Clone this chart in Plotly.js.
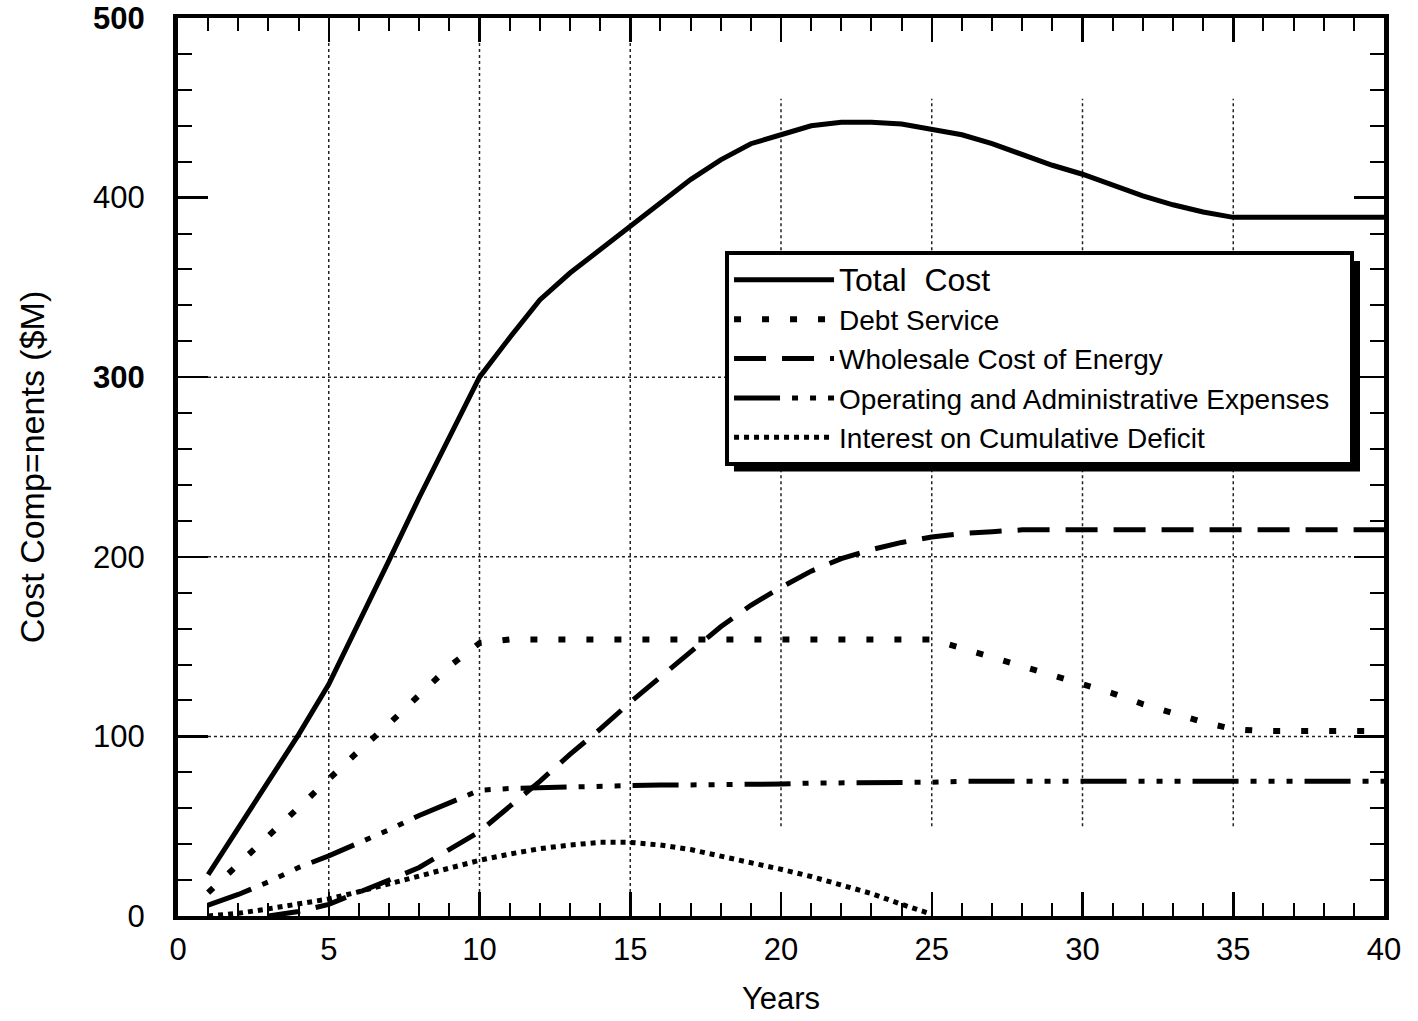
<!DOCTYPE html>
<html>
<head>
<meta charset="utf-8">
<script src="https://cdn.plot.ly/plotly-3.0.1.min.js"></script>
<style>
  html, body { margin: 0; padding: 0; background: #ffffff; }
  #chart { width: 1418px; height: 1021px; }
</style>
</head>
<body>
<div id="chart"></div>
<script>
// ---- Data ----
const years = [1,2,3,4,5,6,7,8,9,10,11,12,13,14,15,16,17,18,19,20,21,22,23,24,25,26,27,28,29,30,31,32,33,34,35,36,37,38,39,40];

const totalCost = [23,49,75,101,129,163,198,233,267,300,322,343,358,371,384,397,410,421,430,435,440,442,442,441,438,435,430,424,418,413,407,401,396,392,389,389,389,389,389,389];

const debtService = [13,29,45,61,76,92,107,123,139,152,154,154,154,154,154,154,154,154,154,154,154,154,154,154,154,149,144,139,134,129,124,118,113,108,104,103,103,103,103,103];

const wholesaleEnergy = [null,null,0,2.5,6.5,13,20,27,37,47,61,75,90,104,119,133,147,161,173,183,192,199,204,208,211,213,214,215,215,215,215,215,215,215,215,215,215,215,215,215];

const operatingAdmin = [6,12,19,27,33.5,40.5,48,56,63,70,71,71.5,72,72.5,73,73,73,73,73.5,73.5,74,74,74,74.5,74.5,75,75,75,75,75,75,75,75,75,75,75,75,75,75,75];

const interestDeficit = [0,1.5,4,6.5,9.5,13.5,18,22.5,26.5,31,34.5,37.5,39.5,41,41,39.5,37,33.5,29.5,26,22,17.5,12.5,6.5,1,null,null,null,null,null,null,null,null,null,null,null,null,null,null,null];

const seriesNames = [
  '<span style="font-size:32px">Total  Cost</span>',
  'Debt Service',
  'Wholesale Cost of Energy',
  'Operating and Administrative Expenses&nbsp;&nbsp;',
  'Interest on Cumulative Deficit'
];

const xTickVals = [0,5,10,15,20,25,30,35,40];
const xTickText = ['0','5','10','15','20','25','30','35','40'];
const yTickVals = [0,100,200,300,400,500];
const yTickText = ['0','100','200','<b>300</b>','400','<b>500</b>'];

// gridline positions (dotted reference grid)
const fullGridX = [5,10,15];
const partialGridX = [20,25,30,35];
const gridY = [100,200,300];

// ---- Traces ----
const font = 'Liberation Sans, Arial, Helvetica, sans-serif';
const seriesData = [totalCost, debtService, wholesaleEnergy, operatingAdmin, interestDeficit];
const dashes = ['solid', '7px,21px', '32px,16px', '46px,12px,6px,12px,6px,12px,6px,12px', '5px,5px'];
const widths = [5, 6, 5, 5, 5];

const traces = seriesData.map((vals, i) => ({
  type: 'scatter',
  mode: 'lines',
  x: years,
  y: vals,
  name: seriesNames[i],
  line: { color: '#000000', width: widths[i], dash: dashes[i] },
  connectgaps: false,
  hoverinfo: 'skip'
}));

// ---- Shapes: dotted grid + legend shadow ----
const shapes = [];
fullGridX.forEach(v => shapes.push({
  type: 'line', xref: 'x', yref: 'y', x0: v, x1: v, y0: 0, y1: 500,
  line: { color: '#222', width: 1.5, dash: 'dot' }, layer: 'below'
}));
partialGridX.forEach(v => shapes.push({
  type: 'line', xref: 'x', yref: 'y', x0: v, x1: v, y0: 50, y1: 455,
  line: { color: '#222', width: 1.5, dash: 'dot' }, layer: 'below'
}));
gridY.forEach(v => shapes.push({
  type: 'line', xref: 'x', yref: 'y', x0: 0, x1: 40, y0: v, y1: v,
  line: { color: '#222', width: 1.5, dash: 'dot' }, layer: 'below'
}));
// legend drop shadow
shapes.push({
  type: 'rect', xref: 'paper', yref: 'paper',
  x0: 0.4610, x1: 0.9801, y0: 0.4950, y1: 0.7294,
  fillcolor: '#000000', line: { width: 0 }, layer: 'above'
});

const layout = {
  width: 1418,
  height: 1021,
  margin: { l: 178, r: 34, t: 18, b: 105 },
  paper_bgcolor: '#ffffff',
  plot_bgcolor: '#ffffff',
  font: { family: font, color: '#000000', size: 30 },
  showlegend: true,
  legend: {
    x: 0.4536, y: 0.7405, xanchor: 'left', yanchor: 'top',
    bgcolor: '#ffffff', bordercolor: '#000000', borderwidth: 4,
    font: { family: font, size: 28, color: '#000000' },
    tracegroupgap: 0,
    itemwidth: 100
  },
  xaxis: {
    range: [0, 40],
    tickmode: 'array', tickvals: xTickVals, ticktext: xTickText,
    ticks: 'inside', ticklen: 24, tickwidth: 2.5, tickcolor: '#000',
    minor: { dtick: 1, tick0: 0, ticks: 'inside', ticklen: 13, tickwidth: 2, tickcolor: '#000', showgrid: false },
    mirror: 'allticks', showline: true, linewidth: 4, linecolor: '#000',
    showgrid: false, zeroline: false,
    tickfont: { family: font, size: 31, color: '#000' },
    ticklabelstandoff: 3,
    title: { text: 'Years', font: { family: font, size: 31, color: '#000' }, standoff: 22 }
  },
  yaxis: {
    range: [0, 500],
    tickmode: 'array', tickvals: yTickVals, ticktext: yTickText,
    ticks: 'inside', ticklen: 30, tickwidth: 2.5, tickcolor: '#000',
    minor: { dtick: 20, tick0: 0, ticks: 'inside', ticklen: 14, tickwidth: 2, tickcolor: '#000', showgrid: false },
    mirror: 'allticks', showline: true, linewidth: 5, linecolor: '#000',
    showgrid: false, zeroline: false,
    tickfont: { family: font, size: 31, color: '#000' },
    ticklabelstandoff: 22,
    title: { text: 'Cost Comp=nents ($M)', font: { family: font, size: 34, color: '#000' }, standoff: 40 }
  },
  shapes: shapes
};

Plotly.newPlot('chart', traces, layout, { staticPlot: true, displayModeBar: false });
</script>
</body>
</html>
